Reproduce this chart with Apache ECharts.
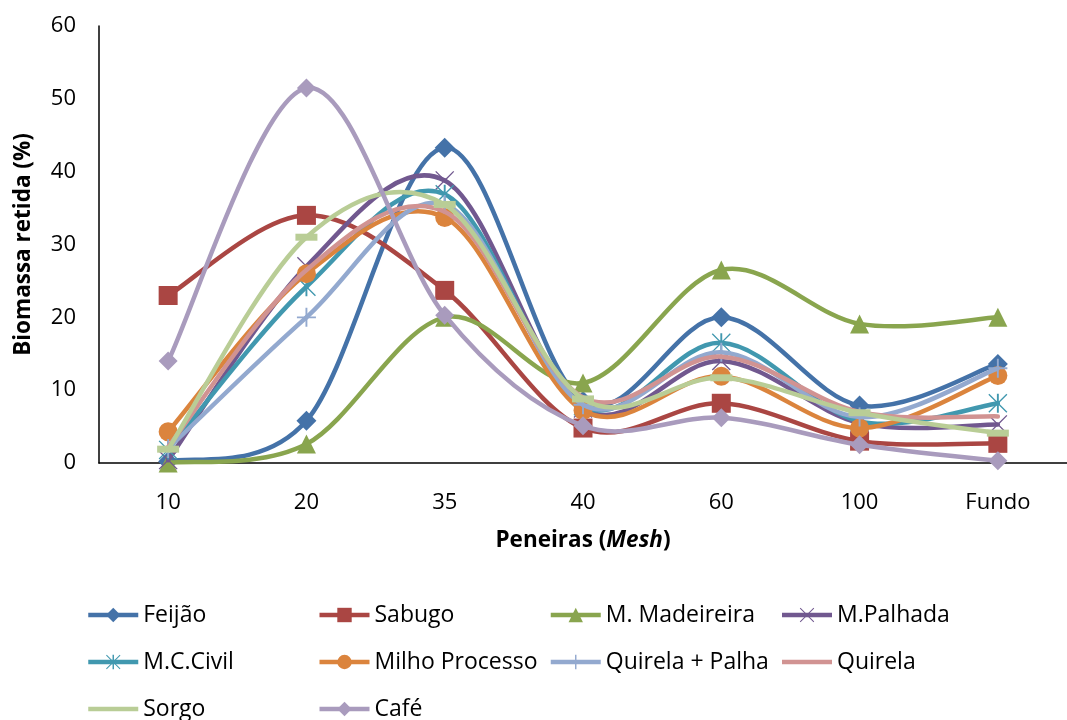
<!DOCTYPE html>
<html>
<head>
<meta charset="utf-8">
<title>Biomassa retida por peneira</title>
<script src="https://cdn.jsdelivr.net/npm/echarts@6/dist/echarts.min.js"></script>
<style>
  html, body { margin: 0; padding: 0; background: #fff; }
  #chart { width: 1067px; height: 720px; }
</style>
</head>
<body>
<div id="chart"></div>
<script>
// Peneiras (Mesh) on the category axis
const peneiras = ['10', '20', '35', '40', '60', '100', 'Fundo'];

// Biomassa retida (%) per sieve, one array per material
const feijao        = [0.2, 5.8, 43.3, 8.5, 20.0, 7.9, 13.6];
const sabugo        = [23.0, 34.0, 23.7, 4.8, 8.2, 3.0, 2.7];
const mMadeireira   = [0.0, 2.6, 20.0, 11.0, 26.5, 19.1, 20.0];
const mPalhada      = [0.4, 27.0, 38.8, 7.5, 14.0, 5.5, 5.3];
const mcCivil       = [1.8, 24.2, 36.9, 7.8, 16.5, 5.7, 8.2];
const milhoProcesso = [4.3, 26.0, 33.7, 7.2, 11.9, 4.8, 12.0];
const quirelaPalha  = [2.0, 20.0, 35.5, 8.0, 15.2, 6.3, 13.0];
const quirela       = [2.2, 26.5, 34.5, 9.0, 14.6, 7.0, 6.4];
const sorgo         = [1.9, 31.0, 35.5, 8.8, 11.7, 6.9, 4.1];
const cafe          = [14.0, 51.5, 20.3, 5.1, 6.2, 2.5, 0.3];

// Y axis ticks
const yTicks = { min: 0, max: 60, interval: 10 };

// Marker shapes
const X_PATH = 'path://M1,0 L10,9 L19,0 L20,1 L11,10 L20,19 L19,20 L10,11 L1,20 L0,19 L9,10 L0,1 Z';
const ASTER_PATH = 'path://M1,0 L10,9 L19,0 L20,1 L11,10 L20,19 L19,20 L10,11 L1,20 L0,19 L9,10 L0,1 Z M9,0 L11,0 L11,20 L9,20 Z';
const PLUS_PATH = 'path://M9,0 L11,0 L11,9 L20,9 L20,11 L11,11 L11,20 L9,20 L9,11 L0,11 L0,9 L9,9 Z';

const FONT = '"Open Sans", Lato, "Noto Sans", sans-serif';
const LINE_W = 4.5;

const materials = [
  { name: 'Feijão',          data: feijao,        color: '#4472A8', symbol: 'diamond',   size: 20 },
  { name: 'Sabugo',          data: sabugo,        color: '#AA4643', symbol: 'rect',      size: 19 },
  { name: 'M. Madeireira',   data: mMadeireira,   color: '#89A54E', symbol: 'triangle',  size: 19 },
  { name: 'M.Palhada',       data: mPalhada,      color: '#71588F', symbol: X_PATH,      size: 19 },
  { name: 'M.C.Civil',       data: mcCivil,       color: '#4198AF', symbol: ASTER_PATH,  size: 19 },
  { name: 'Milho Processo',  data: milhoProcesso, color: '#DB843D', symbol: 'circle',    size: 19 },
  { name: 'Quirela + Palha', data: quirelaPalha,  color: '#93A9CF', symbol: PLUS_PATH,   size: 19 },
  { name: 'Quirela',         data: quirela,       color: '#D19392', symbol: 'none',      size: 0 },
  { name: 'Sorgo',           data: sorgo,         color: '#B9CD96', symbol: 'rect',      size: [22, 7] },
  { name: 'Café',            data: cafe,          color: '#A99BBD', symbol: 'diamond',   size: 19 }
];

// Smoothed curve: cubic Bezier segments with Catmull-Rom tangents (1/6 rule),
// computed in pixel space from the axis coordinates of each point.
function curveSeries(m, k) {
  return {
    name: m.name,
    type: 'custom',
    z: 10 + 2 * k,
    silent: true,
    data: m.data.slice(0, -1).map((v, i) => [i, v]),
    renderItem: function (params, api) {
      const i = params.dataIndex;
      const n = m.data.length;
      const clamp = j => Math.max(0, Math.min(n - 1, j));
      const pt = j => api.coord([clamp(j), m.data[clamp(j)]]);
      const p0 = pt(i - 1), p1 = pt(i), p2 = pt(i + 1), p3 = pt(i + 2);
      return {
        type: 'bezierCurve',
        shape: {
          x1: p1[0], y1: p1[1],
          cpx1: p1[0] + (p2[0] - p0[0]) / 6, cpy1: p1[1] + (p2[1] - p0[1]) / 6,
          cpx2: p2[0] - (p3[0] - p1[0]) / 6, cpy2: p2[1] - (p3[1] - p1[1]) / 6,
          x2: p2[0], y2: p2[1]
        },
        style: { stroke: m.color, lineWidth: LINE_W, fill: null, lineCap: 'round' }
      };
    }
  };
}

// Markers (and legend entries) for each material
function markerSeries(m, k) {
  return {
    name: m.name,
    type: 'line',
    z: 11 + 2 * k,
    data: m.data,
    color: m.color,
    symbol: m.symbol,
    symbolSize: m.size,
    showSymbol: m.symbol !== 'none',
    lineStyle: { width: LINE_W, color: m.color, opacity: 0 },
    itemStyle: { color: m.color, borderWidth: 0 },
    emphasis: { disabled: true },
    silent: true
  };
}

const series = [];
materials.forEach((m, k) => { series.push(markerSeries(m, k)); });
materials.forEach((m, k) => { series.push(curveSeries(m, k)); });

// Legend entries: Quirela has no marker and the Sorgo dash merges into its line
const legendData = materials.map(m => {
  const item = { name: m.name };
  if (m.symbol === 'none' || Array.isArray(m.size)) item.itemStyle = { opacity: 0 };
  return item;
});

const chart = echarts.init(document.getElementById('chart'), null, { renderer: 'canvas' });
chart.setOption({
  animation: false,
  backgroundColor: '#ffffff',
  textStyle: { fontFamily: FONT },
  grid: { left: 99, right: -9, top: 26, bottom: 257, containLabel: false },
  xAxis: {
    type: 'category',
    data: peneiras,
    boundaryGap: true,
    axisLine: { show: true, lineStyle: { color: '#000', width: 1.5 } },
    axisTick: { show: false },
    axisLabel: { color: '#000', fontSize: 22, fontFamily: FONT, margin: 29 },
    splitLine: { show: false },
    name: '{b|Peneiras (}{bi|Mesh}{b|)}',
    nameLocation: 'middle',
    nameGap: 66,
    nameTextStyle: {
      rich: {
        b: { fontWeight: 'bold', fontSize: 22.5, color: '#000', fontFamily: FONT },
        bi: { fontWeight: 'bold', fontStyle: 'italic', fontSize: 22.5, color: '#000', fontFamily: FONT }
      }
    }
  },
  yAxis: {
    type: 'value',
    min: yTicks.min,
    max: yTicks.max,
    interval: yTicks.interval,
    axisLine: { show: true, lineStyle: { color: '#000', width: 1.5 } },
    axisTick: { show: false },
    axisLabel: { color: '#000', fontSize: 22, fontFamily: FONT, margin: 23 },
    splitLine: { show: false },
    name: 'Biomassa retida (%)',
    nameLocation: 'middle',
    nameGap: 64,
    nameTextStyle: { fontWeight: 'bold', fontSize: 22.5, color: '#000', fontFamily: FONT }
  },
  legend: {
    left: 86,
    top: 595,
    width: 940,
    padding: 0,
    itemWidth: 50,
    itemHeight: 18,
    itemGap: 7,
    selectedMode: false,
    lineStyle: { width: LINE_W, opacity: 1 },
    textStyle: { fontSize: 23, color: '#000', fontFamily: FONT, width: 167, lineHeight: 40, overflow: 'none' },
    data: legendData
  },
  series: series
});
</script>
</body>
</html>
